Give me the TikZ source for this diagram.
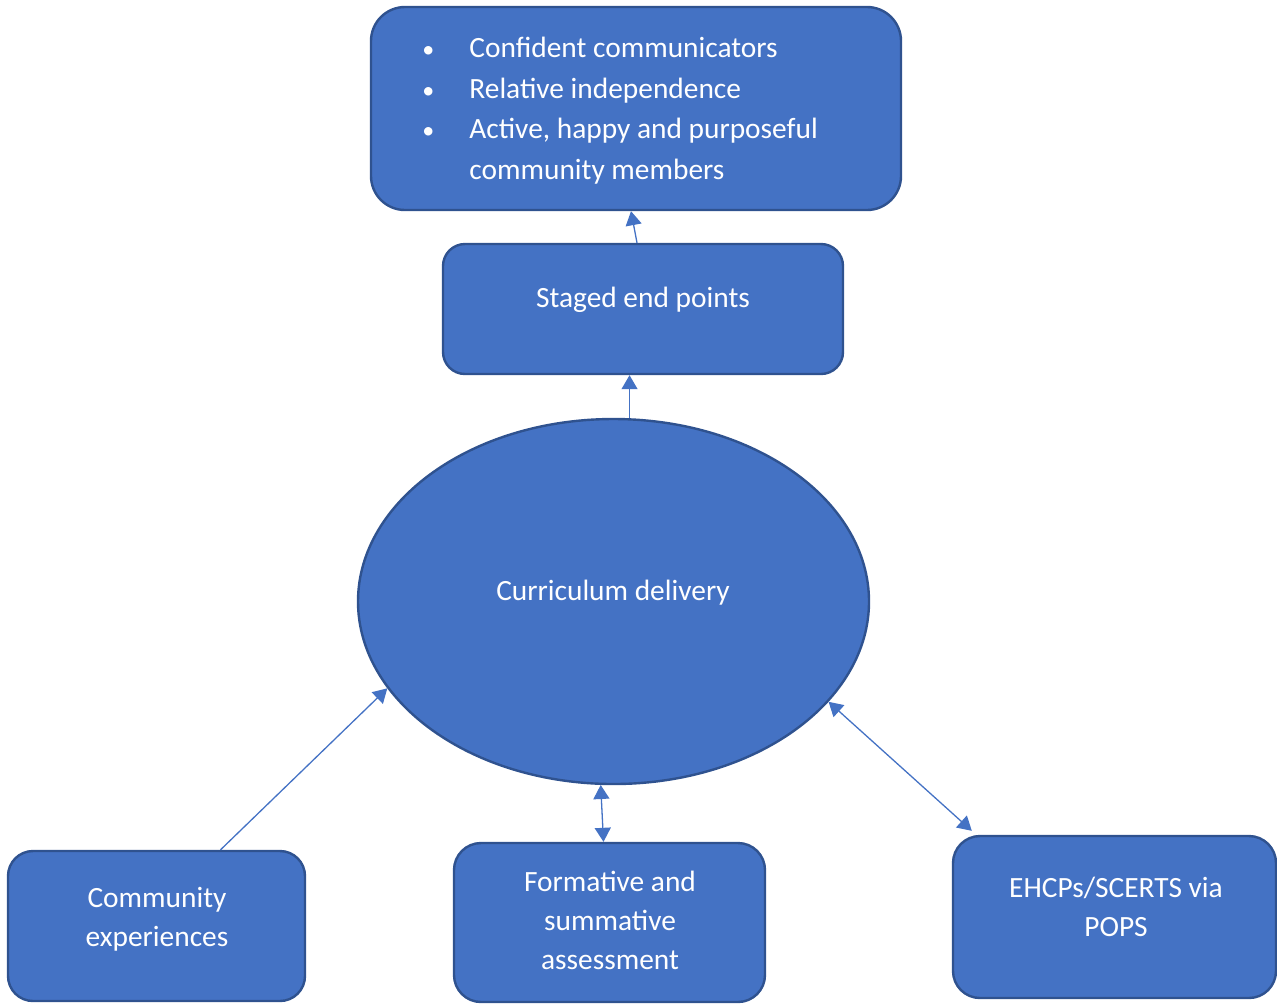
\documentclass[tikz,border=0pt]{standalone}
\usepackage{fontspec}
\setmainfont{Carlito}
\usepackage{xcolor}
\usepackage{tikz}
\usetikzlibrary{
    arrows.meta,
    positioning,
    shapes.geometric
}
\definecolor{officeblue}{HTML}{4472C4}
\definecolor{officeedge}{HTML}{2F528F}

\begin{document}
\begin{tikzpicture}[
    x=0.5pt, y=-0.5pt,
    font=\fontsize{14.7}{19.5}\selectfont,
    box/.style={
        rectangle,
        rounded corners=13pt,
        draw=officeedge,
        fill=officeblue,
        line width=1.2pt,
        inner sep=0pt
    },
    blob/.style={
        ellipse,
        draw=officeedge,
        fill=officeblue,
        line width=1.2pt,
        inner sep=0pt,
        minimum width=255.5pt,
        minimum height=182.5pt
    },
    txt/.style={
        text=white,
        align=center,
        inner sep=0pt
    },
    arrow/.style={-{Triangle[length=7pt,width=8pt]}, line width=0.65pt, officeblue},
    twoway/.style={{Triangle[length=7pt,width=8pt]}-{Triangle[length=7pt,width=8pt]}, line width=0.65pt, officeblue}
]
\useasboundingbox (0,0) rectangle (1277,1003);

% ===== TOP: goals and staged end points =====
\node[box, rounded corners=17pt, minimum width=265pt, minimum height=101.5pt] (goals) at (636,108.5) {};
\node[txt, align=left, anchor=north west, font=\fontsize{14.7}{20.2}\selectfont] (goallist) at (422,37)
    {\makebox[23.5pt][l]{\large•}Confident communicators\\
     \makebox[23.5pt][l]{\large•}Relative independence\\
     \makebox[23.5pt][l]{\large•}Active, happy and purposeful\\
     \hspace*{23.5pt}community members};

\node[box, rounded corners=11pt, minimum width=200pt, minimum height=65pt] (staged) at (643,309) {};
\node[txt] at (643,300) {Staged end points};

% ===== MIDDLE: curriculum delivery =====
\node[blob] (cd) at (613.5,601.5) {};
\node[txt] at (613,593) {Curriculum delivery};

% ===== BOTTOM ROW =====
\node[box, rounded corners=12.5pt, minimum width=148.5pt, minimum height=75pt] (community) at (156.5,926) {};
\node[txt] at (157,919) {Community\\experiences};

\node[box, rounded corners=13.5pt, minimum width=155.5pt, minimum height=79.5pt] (formative) at (609.5,922.5) {};
\node[txt] at (610,920) {Formative and\\summative\\assessment};

\node[box, rounded corners=13.5pt, minimum width=161.5pt, minimum height=81pt] (ehcp) at (1114.5,917) {};
\node[txt] at (1116,907) {EHCPs/SCERTS via\\POPS};

% connectors
\draw[arrow] ([xshift=-3pt]staged.north) -- ([xshift=-2.5pt]goals.south);
\draw[arrow] (cd.85) -- (cd.85 |- staged.south);
\draw[arrow] ([xshift=32pt]community.north) -- (cd.201);
\draw[twoway] (cd.266) -- ([xshift=-3pt]formative.north);
\draw[twoway] (cd.335) -- ([xshift=10pt,yshift=2pt]ehcp.north west);

\end{tikzpicture}
\end{document}
